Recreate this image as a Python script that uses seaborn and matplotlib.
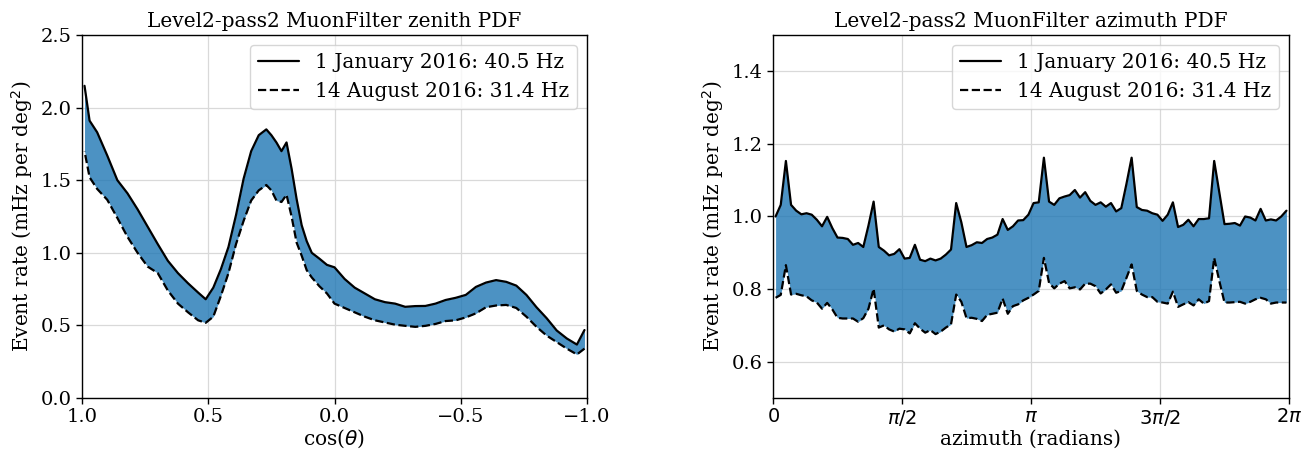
import numpy as np
import matplotlib
matplotlib.use("Agg")
import matplotlib.pyplot as plt
import seaborn as sns
import pandas as pd

# ---- zenith data (cos(theta)) ----
cos_zenith = [0.99, 0.97, 0.94, 0.90, 0.86, 0.82, 0.78, 0.74, 0.70, 0.66, 0.62, 0.58,
              0.54, 0.51, 0.48, 0.45, 0.42, 0.39, 0.36, 0.33, 0.30, 0.27, 0.25, 0.23,
              0.21, 0.19, 0.17, 0.15, 0.13, 0.11, 0.09, 0.06, 0.03, 0.00, -0.04, -0.08,
              -0.12, -0.16, -0.20, -0.24, -0.28, -0.32, -0.36, -0.40, -0.44, -0.48,
              -0.52, -0.56, -0.60, -0.64, -0.68, -0.72, -0.76, -0.80, -0.84, -0.88,
              -0.92, -0.96, -0.99]
zenith_jan = [2.15, 1.91, 1.83, 1.67, 1.50, 1.41, 1.30, 1.18, 1.06, 0.945, 0.86, 0.79,
              0.726, 0.68, 0.76, 0.887, 1.04, 1.26, 1.51, 1.70, 1.81, 1.85, 1.81, 1.76,
              1.70, 1.76, 1.58, 1.37, 1.19, 1.08, 1.00, 0.96, 0.917, 0.90, 0.82, 0.76,
              0.72, 0.68, 0.66, 0.65, 0.628, 0.633, 0.634, 0.65, 0.675, 0.69,
              0.71, 0.765, 0.795, 0.812, 0.80, 0.774, 0.71, 0.625, 0.55, 0.465,
              0.41, 0.368, 0.468]
zenith_aug = [1.70, 1.52, 1.44, 1.365, 1.24, 1.11, 1.00, 0.905, 0.86, 0.74, 0.65, 0.59,
              0.535, 0.518, 0.56, 0.703, 0.86, 1.06, 1.22, 1.36, 1.43, 1.467, 1.43, 1.36,
              1.35, 1.40, 1.25, 1.07, 0.98, 0.88, 0.83, 0.77, 0.72, 0.65, 0.62, 0.59,
              0.56, 0.535, 0.52, 0.505, 0.497, 0.49, 0.497, 0.51, 0.53, 0.535,
              0.555, 0.583, 0.625, 0.637, 0.641, 0.62, 0.56, 0.49, 0.43, 0.385,
              0.34, 0.30, 0.34]

# ---- azimuth data (100 bins over 0..2pi) ----
n_az_bins = 100
azimuth_jan = [1.000, 1.032, 1.153, 1.032, 1.016, 1.006, 1.009, 1.005, 0.991, 0.973,
               0.999, 0.968, 0.942, 0.941, 0.938, 0.922, 0.927, 0.916, 0.975, 1.041,
               0.916, 0.906, 0.893, 0.897, 0.910, 0.884, 0.886, 0.922, 0.881, 0.877,
               0.884, 0.879, 0.884, 0.895, 0.909, 1.037, 0.984, 0.916, 0.921, 0.929,
               0.927, 0.938, 0.942, 0.950, 0.993, 0.963, 0.973, 0.989, 0.990, 1.005,
               1.037, 1.039, 1.162, 1.041, 1.032, 1.050, 1.055, 1.059, 1.073, 1.052,
               1.067, 1.043, 1.032, 1.039, 1.027, 1.037, 1.014, 1.023, 1.090, 1.162,
               1.026, 1.018, 1.016, 1.009, 1.005, 0.988, 1.005, 1.039, 0.971, 0.977,
               0.991, 0.973, 0.993, 0.993, 0.995, 1.153, 1.066, 0.979, 0.980, 0.982,
               0.975, 1.000, 0.997, 0.989, 1.021, 0.989, 0.992, 0.989, 1.000, 1.016]
azimuth_aug = [0.776, 0.784, 0.866, 0.785, 0.787, 0.783, 0.780, 0.769, 0.763, 0.746,
               0.762, 0.744, 0.721, 0.719, 0.719, 0.719, 0.710, 0.720, 0.746, 0.801,
               0.694, 0.700, 0.689, 0.683, 0.691, 0.689, 0.678, 0.706, 0.691, 0.680,
               0.687, 0.676, 0.683, 0.694, 0.703, 0.785, 0.765, 0.720, 0.721, 0.718,
               0.712, 0.729, 0.732, 0.735, 0.774, 0.732, 0.753, 0.758, 0.769, 0.776,
               0.785, 0.795, 0.886, 0.817, 0.802, 0.815, 0.822, 0.802, 0.805, 0.799,
               0.815, 0.815, 0.808, 0.788, 0.799, 0.813, 0.790, 0.795, 0.831, 0.868,
               0.795, 0.785, 0.778, 0.778, 0.765, 0.763, 0.760, 0.793, 0.751, 0.758,
               0.764, 0.755, 0.772, 0.760, 0.767, 0.886, 0.822, 0.763, 0.763, 0.764,
               0.765, 0.760, 0.765, 0.772, 0.776, 0.772, 0.760, 0.763, 0.763, 0.763]

label_jan = "1 January 2016: 40.5 Hz"
label_aug = "14 August 2016: 31.4 Hz"
zen_ticks = [1.0, 0.5, 0.0, -0.5, -1.0]
az_tick_labels = ["$0$", r"$\pi/2$", r"$\pi$", r"$3\pi/2$", r"$2\pi$"]

sns.set_theme(style="ticks")
plt.rcParams["font.family"] = ["DejaVu Serif"]
plt.rcParams["mathtext.fontset"] = "dejavusans"
for k in ["text.color", "axes.labelcolor", "xtick.color", "ytick.color", "axes.edgecolor"]:
    plt.rcParams[k] = "black"

fig = plt.figure(figsize=(13.12, 4.51), dpi=100)
ax1 = fig.add_axes([82 / 1312, 53 / 451, 505 / 1312, 363 / 451])
ax2 = fig.add_axes([773 / 1312, 53 / 451, 516 / 1312, 363 / 451])

fill_color = "#1f77b4"
tick_fs = 14
lab_fs = 14.5
leg_fs = 14.5

def style(ax):
    ax.grid(True, color="#d9d9d9", linewidth=0.9)
    ax.set_axisbelow(True)
    for s in ax.spines.values():
        s.set_color("black")
        s.set_linewidth(1.0)
    ax.tick_params(labelsize=tick_fs, direction="out", length=4, width=1, colors="black")

# zenith
zdf = pd.DataFrame({"x": cos_zenith, "jan": zenith_jan, "aug": zenith_aug})
ax1.fill_between(zdf["x"], zdf["aug"], zdf["jan"], color=fill_color, alpha=0.8, linewidth=0)
sns.lineplot(data=zdf, x="x", y="jan", ax=ax1, color="black", linewidth=1.6, label=label_jan)
sns.lineplot(data=zdf, x="x", y="aug", ax=ax1, color="black", linewidth=1.6, linestyle="--", label=label_aug)
ax1.set_xlim(1.0, -1.0)
ax1.set_ylim(0.0, 2.5)
ax1.set_xticks(zen_ticks)
ax1.set_yticks([0.0, 0.5, 1.0, 1.5, 2.0, 2.5])
ax1.set_xlabel(r"cos($\theta$)", fontsize=lab_fs, labelpad=1)
ax1.set_ylabel(r"Event rate (mHz per deg$^2$)", fontsize=lab_fs)
ax1.set_title("Level2-pass2 MuonFilter zenith PDF", fontsize=lab_fs)
style(ax1)
ax1.legend(loc="upper right", fontsize=leg_fs, frameon=True, fancybox=True, framealpha=0.8)

# azimuth
edges = np.linspace(0, 2 * np.pi, n_az_bins + 1)
centers = 0.5 * (edges[:-1] + edges[1:])
adf = pd.DataFrame({"x": centers, "jan": azimuth_jan, "aug": azimuth_aug})
ax2.fill_between(adf["x"], adf["aug"], adf["jan"], color=fill_color, alpha=0.8, linewidth=0)
sns.lineplot(data=adf, x="x", y="jan", ax=ax2, color="black", linewidth=1.6, label=label_jan)
sns.lineplot(data=adf, x="x", y="aug", ax=ax2, color="black", linewidth=1.6, linestyle="--", label=label_aug)
ax2.set_xlim(0, 2 * np.pi)
ax2.set_ylim(0.5, 1.5)
ax2.set_xticks(np.linspace(0, 2 * np.pi, 5))
ax2.set_xticklabels(az_tick_labels)
ax2.set_yticks([0.6, 0.8, 1.0, 1.2, 1.4])
ax2.set_xlabel("azimuth (radians)", fontsize=lab_fs, labelpad=1)
ax2.set_ylabel(r"Event rate (mHz per deg$^2$)", fontsize=lab_fs)
ax2.set_title("Level2-pass2 MuonFilter azimuth PDF", fontsize=lab_fs)
style(ax2)
ax2.legend(loc="upper right", fontsize=leg_fs, frameon=True, fancybox=True, framealpha=0.8)

fig.savefig("out.png", dpi=100)
